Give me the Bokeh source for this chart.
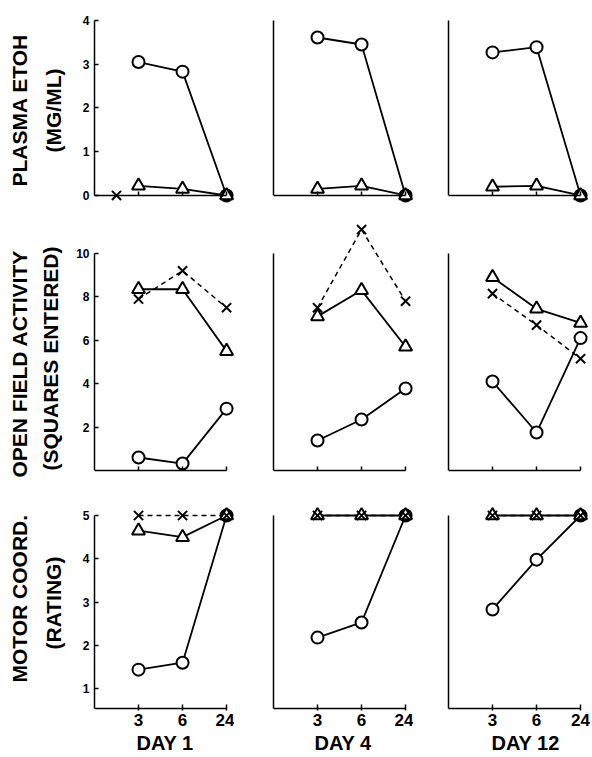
from bokeh.plotting import figure
from bokeh.layouts import column, row
from bokeh.models import FixedTicker, Range1d, ColumnDataSource, Title
from bokeh.embed import file_html
from bokeh.resources import INLINE

# ---------------- data ----------------
hours = ["3", "6", "24"]
days = ["DAY 1", "DAY 4", "DAY 12"]

# Plasma EtOH (mg/ml)
etoh_circ_d1 = [3.05, 2.83, 0.0]
etoh_circ_d4 = [3.61, 3.45, 0.0]
etoh_circ_d12 = [3.27, 3.39, 0.0]
etoh_tri_d1 = [0.22, 0.15, 0.0]
etoh_tri_d4 = [0.15, 0.22, 0.0]
etoh_tri_d12 = [0.20, 0.22, 0.0]
etoh_ctrl_pos = [0.5]
etoh_ctrl_val = [0.0]

# Open field activity (squares entered)
ofa_circ_d1 = [0.6, 0.32, 2.85]
ofa_circ_d4 = [1.38, 2.35, 3.78]
ofa_circ_d12 = [4.1, 1.75, 6.1]
ofa_tri_d1 = [8.35, 8.35, 5.5]
ofa_tri_d4 = [7.1, 8.3, 5.7]
ofa_tri_d12 = [8.9, 7.45, 6.8]
ofa_x_d1 = [7.9, 9.2, 7.5]
ofa_x_d4 = [7.5, 11.1, 7.8]
ofa_x_d12 = [8.15, 6.7, 5.15]

# Motor coordination (rating)
mc_circ_d1 = [1.44, 1.6, 5.0]
mc_circ_d4 = [2.18, 2.53, 5.0]
mc_circ_d12 = [2.83, 3.98, 5.0]
mc_tri_d1 = [4.65, 4.5, 5.0]
mc_tri_d4 = [5.0, 5.0, 5.0]
mc_tri_d12 = [5.0, 5.0, 5.0]
mc_x_d1 = [5.0, 5.0, 5.0]
mc_x_d4 = [5.0, 5.0, 5.0]
mc_x_d12 = [5.0, 5.0, 5.0]

row_title_1 = ["PLASMA ETOH", "OPEN FIELD ACTIVITY", "MOTOR COORD."]
row_title_2 = ["(MG/ML)", "(SQUARES ENTERED)", "(RATING)"]
etoh_ticks = [0, 1, 2, 3, 4]
ofa_ticks = [2, 4, 6, 8, 10]
mc_ticks = [1, 2, 3, 4, 5]

# ---------------- layout settings ----------------
FONT = "Liberation Sans"
pos = list(range(1, len(hours) + 1))
xend = 3.18
frame_w = 140
col_left = [94, 39, 35]
col_right = [0, 0, 2]
day_offsets = [42, 41, 43]

rows_cfg = [
    dict(circ=[etoh_circ_d1, etoh_circ_d4, etoh_circ_d12],
         tri=[etoh_tri_d1, etoh_tri_d4, etoh_tri_d12],
         xs=[None, None, None],
         yr=(-0.206, 4.09), ybounds=(0, 4), ticks=etoh_ticks, fixed=0,
         fh=188, top=16, bottom=14, so_in=29, so_out=-10, off=(18, 52)),
    dict(circ=[ofa_circ_d1, ofa_circ_d4, ofa_circ_d12],
         tri=[ofa_tri_d1, ofa_tri_d4, ofa_tri_d12],
         xs=[ofa_x_d1, ofa_x_d4, ofa_x_d12],
         yr=(-0.276, 11.61), ybounds=(0, 10), ticks=ofa_ticks, fixed=0,
         fh=258, top=0, bottom=30, so_in=23, so_out=-10, off=(-1, 6)),
    dict(circ=[mc_circ_d1, mc_circ_d4, mc_circ_d12],
         tri=[mc_tri_d1, mc_tri_d4, mc_tri_d12],
         xs=[mc_x_d1, mc_x_d4, mc_x_d12],
         yr=(0.543, 5.208), ybounds=(0.543, 5), ticks=mc_ticks, fixed=None,
         fh=202, top=0, bottom=48, so_in=29, so_out=-10, off=(26, 59)),
]

rows = []
for r, cfg in enumerate(rows_cfg):
    figs = []
    for c in range(3):
        p = figure(frame_width=frame_w, frame_height=cfg["fh"],
                   x_range=Range1d(0, xend), y_range=Range1d(*cfg["yr"]),
                   output_backend="svg", toolbar_location=None,
                   min_border_left=col_left[c], min_border_right=col_right[c],
                   min_border_top=cfg["top"], min_border_bottom=cfg["bottom"])
        p.grid.visible = False
        p.outline_line_color = None

        # x axis
        xa = p.xaxis[0]
        xa.bounds = (0, 3)
        xa.axis_line_width = 1.5
        xa.axis_line_color = "black"
        if cfg["fixed"] is not None:
            xa.fixed_location = cfg["fixed"]
        if r == 2:
            xa.ticker = FixedTicker(ticks=pos)
            xa.major_label_overrides = {i: h for i, h in zip(pos, hours)}
            xa.major_tick_line_width = 1.5
            xa.major_tick_in = 4
            xa.major_tick_out = 2
            xa.minor_tick_line_color = None
            xa.major_label_text_font = FONT
            xa.major_label_text_font_style = "bold"
            xa.major_label_text_font_size = "17px"
            xa.major_label_text_color = "black"
            xa.major_label_standoff = 3
            t = Title(text=days[c], align="left", offset=day_offsets[c],
                      standoff=2, text_font=FONT, text_font_style="bold",
                      text_font_size="20px", text_color="black")
            p.add_layout(t, "below")
        else:
            xa.ticker = FixedTicker(ticks=[], minor_ticks=pos)
            xa.major_tick_line_color = None
            xa.minor_tick_line_color = "black"
            xa.minor_tick_line_width = 1.5
            xa.minor_tick_in = 4
            xa.minor_tick_out = 0

        # y axis
        ya = p.yaxis[0]
        ya.bounds = cfg["ybounds"]
        ya.axis_line_width = 1.5
        ya.axis_line_color = "black"
        ya.minor_tick_line_color = None
        if c == 0:
            ya.ticker = FixedTicker(ticks=cfg["ticks"])
            ya.major_tick_in = 4
            ya.major_tick_out = 0
            ya.major_tick_line_width = 1.5
            ya.major_label_standoff = 5
            ya.major_label_text_font = FONT
            ya.major_label_text_font_style = "bold"
            ya.major_label_text_font_size = "12px"
            ya.major_label_text_color = "black"
            t_in = Title(text=row_title_2[r], align="left", offset=cfg["off"][1],
                         standoff=cfg["so_in"], text_font=FONT, text_font_style="bold",
                         text_font_size="21px", text_color="black")
            t_out = Title(text=row_title_1[r], align="left", offset=cfg["off"][0],
                          standoff=cfg["so_out"], text_font=FONT, text_font_style="bold",
                          text_font_size="21px", text_color="black")
            p.add_layout(t_in, "left")
            p.add_layout(t_out, "left")
        else:
            ya.ticker = FixedTicker(ticks=[])
            ya.major_tick_line_color = None

        circ = cfg["circ"][c]
        tri = cfg["tri"][c]
        xs = cfg["xs"][c]

        # lines
        p.line(pos, circ, line_color="black", line_width=1.8)
        p.line(pos, tri, line_color="black", line_width=1.8)
        if xs is not None:
            p.line(pos, xs, line_color="black", line_width=1.5, line_dash="5 4")

        # markers: circle filled black where it coincides with the triangle
        fills = ["black" if a == b else "white" for a, b in zip(circ, tri)]
        src = ColumnDataSource(dict(x=pos, y=circ, f=fills))
        p.scatter("x", "y", source=src, marker="circle", size=12,
                  fill_color="f", line_color="black", line_width=2)
        p.scatter(pos, tri, marker="triangle", size=13, fill_color="white",
                  line_color="black", line_width=2)
        if xs is not None:
            p.scatter(pos, xs, marker="x", size=13, line_color="black", line_width=2)
        if r == 0 and c == 0:
            p.scatter(etoh_ctrl_pos, etoh_ctrl_val, marker="x", size=13,
                      line_color="black", line_width=2)
        figs.append(p)
    rows.append(row(*figs, spacing=0))

layout = column(*rows, spacing=0)
open("out.html", "w").write(file_html(layout, INLINE))
